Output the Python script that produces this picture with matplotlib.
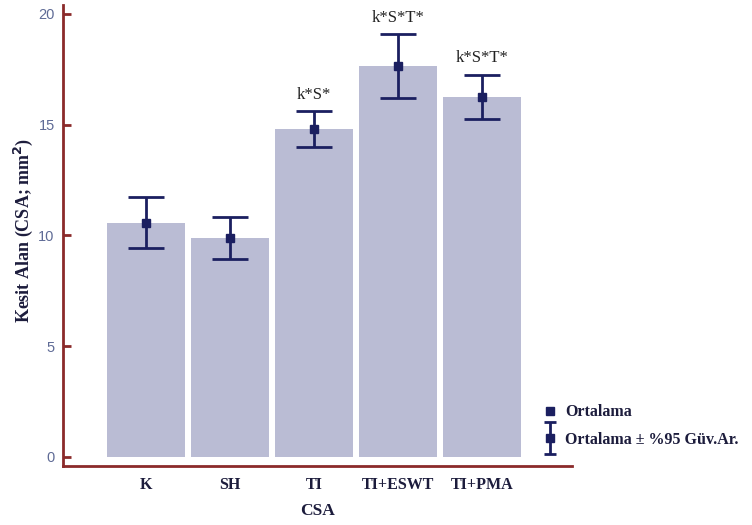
import matplotlib
matplotlib.use("Agg")
import matplotlib.pyplot as plt
from matplotlib.lines import Line2D
from matplotlib.legend_handler import HandlerErrorbar
import numpy as np

categories = ["K", "SH", "TI", "TI+ESWT", "TI+PMA"]
means = [10.56, 9.89, 14.80, 17.65, 16.25]
upper = [11.74, 10.84, 15.60, 19.10, 17.25]
lower = [9.44, 8.94, 14.00, 16.20, 15.26]
annotations = ["", "", "k*S*", "k*S*T*", "k*S*T*"]
yticks = [0, 5, 10, 15, 20]

navy = "#1b1f60"
spine_red = "#8b2a2a"
bar_col = "#babcd4"
tick_col = "#5f6b96"
text_col = "#1c1c3c"

fig = plt.figure(figsize=(7.52, 5.25), dpi=100)
ax = fig.add_axes([0.0838, 0.1124, 0.677, 0.878])

x = np.arange(len(categories))
ax.bar(x, means, width=0.93, color=bar_col, edgecolor="none", zorder=1)

m = np.array(means)
err = np.vstack([m - np.array(lower), np.array(upper) - m])
eb = ax.errorbar(x, means, yerr=err, fmt="s", color=navy, ecolor=navy,
                 markersize=6, elinewidth=2, capsize=13, capthick=2, zorder=3)

for xi, up, t in zip(x, upper, annotations):
    if t:
        ax.annotate(t, (xi, up), xytext=(0, 6), textcoords="offset points",
                    ha="center", va="bottom", fontsize=12,
                    family="Liberation Serif", color="#222222")

ax.set_xlim(-0.99, 5.07)
ax.set_ylim(-0.41, 20.4)
ax.set_yticks(yticks)
ax.set_yticklabels([str(v) for v in yticks], family="Liberation Sans",
                   fontsize=10.5, color=tick_col)
ax.set_xticks(x)
ax.set_xticklabels(categories, family="Liberation Serif", fontweight="bold",
                   fontsize=11.5, color=text_col)
ax.tick_params(axis="x", length=0, pad=8)
ax.tick_params(axis="y", direction="in", length=6, width=2, color=spine_red, pad=6)
ax.set_xticks([2], minor=True)
ax.tick_params(axis="x", which="minor", direction="in", length=5, width=2, color=spine_red)

for s in ["top", "right"]:
    ax.spines[s].set_visible(False)
for s in ["left", "bottom"]:
    ax.spines[s].set_color(spine_red)
    ax.spines[s].set_linewidth(2)

ax.set_xlabel("CSA", family="Liberation Serif", fontweight="bold", fontsize=12.5,
              color=text_col, labelpad=7)
ax.set_ylabel("Kesit Alan (CSA; mm$^\\mathbf{2}$)", family="Liberation Serif",
              fontweight="bold", fontsize=13, color=text_col, labelpad=4)
ax.yaxis.set_label_coords(-0.055, 0.51)

h1 = Line2D([], [], marker="s", ls="none", color=navy, markersize=6)
eb_leg = ax.errorbar([np.nan], [np.nan], yerr=[1], fmt="s", color=navy,
                     markersize=6, elinewidth=2, capsize=4, capthick=2)
leg = fig.legend([h1, eb_leg], ["Ortalama", "Ortalama \u00b1 %95 G\u00fcv.Ar."],
                 loc="upper left", bbox_to_anchor=(0.703, 0.257), frameon=False,
                 prop={"family": "Liberation Serif", "weight": "bold", "size": 11.5},
                 handlelength=0.9, handletextpad=0.5, labelspacing=0.7,
                 handler_map={type(eb_leg): HandlerErrorbar(xerr_size=0.5, yerr_size=1.0)})
for t in leg.get_texts():
    t.set_color(text_col)

fig.savefig("out.png", dpi=100)
